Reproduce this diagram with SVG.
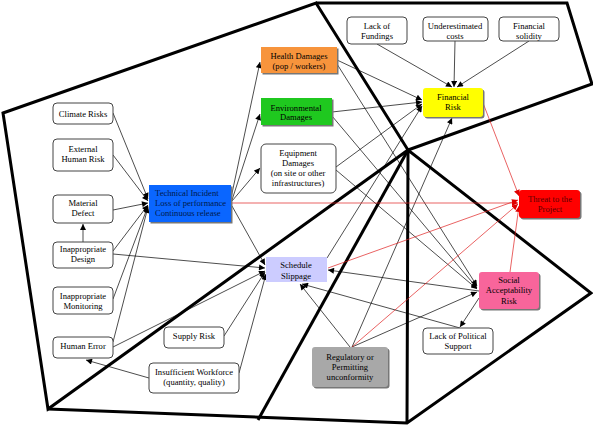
<svg xmlns="http://www.w3.org/2000/svg" width="593" height="426" viewBox="0 0 593 426">
<style>
text{font-family:"Liberation Serif","Times New Roman",serif;font-size:8.6px;fill:#000;text-anchor:middle}
.w{fill:#fff;stroke:#444;stroke-width:1}
.sh{fill:#777}
.zone{fill:none;stroke:#000;stroke-width:3;stroke-linejoin:miter}
.c{stroke:#000;stroke-width:0.7;fill:none;marker-end:url(#a)}
.r{stroke:#e02020;stroke-width:0.7;fill:none;marker-end:url(#ar)}
</style>
<defs>
<marker id="a" viewBox="0 0 10 10" refX="10" refY="5" markerWidth="7" markerHeight="6" markerUnits="userSpaceOnUse" orient="auto"><path d="M0,0 L10,5 L0,10 z" fill="#000"/></marker>
<marker id="ar" viewBox="0 0 10 10" refX="10" refY="5" markerWidth="7" markerHeight="6" markerUnits="userSpaceOnUse" orient="auto"><path d="M0,0 L10,5 L0,10 z" fill="#e00000"/></marker>
</defs>
<rect width="593" height="426" fill="#fff"/>
<g id="zones">
<path class="zone" d="M3,113 L316,3 L408,150 L48,409 Z"/>
<path class="zone" d="M316,3 L567,3 L592,84 L408,150"/>
<path class="zone" d="M48,409 L407,423 L591,293 L408,150 L407,423"/>
<path class="zone" d="M408,150 L258,420"/>
</g>
<g id="connectors">
<line class="c" x1="113" y1="113" x2="148" y2="199"/>
<line class="c" x1="113" y1="155" x2="148" y2="201"/>
<line class="c" x1="113" y1="210" x2="148" y2="203"/>
<line class="c" x1="113" y1="251" x2="148" y2="205"/>
<line class="c" x1="113" y1="299" x2="148" y2="206"/>
<line class="c" x1="113" y1="342" x2="148" y2="207"/>
<line class="c" x1="83" y1="242" x2="83" y2="224"/>
<line class="c" x1="113" y1="254" x2="265" y2="268"/>
<line class="c" x1="113" y1="347" x2="265" y2="271"/>
<line class="c" x1="224" y1="336" x2="265" y2="272"/>
<line class="c" x1="239" y1="373" x2="266" y2="274"/>
<line class="c" x1="149" y1="378" x2="86" y2="360"/>
<line class="c" x1="231" y1="198" x2="260" y2="62"/>
<line class="c" x1="232" y1="200" x2="260" y2="114"/>
<line class="c" x1="232" y1="201" x2="260" y2="168"/>
<line class="c" x1="232" y1="206" x2="265" y2="265"/>
<line class="c" x1="377" y1="44" x2="452" y2="87"/>
<line class="c" x1="455" y1="41" x2="454" y2="87"/>
<line class="c" x1="529" y1="41" x2="457" y2="87"/>
<line class="c" x1="337" y1="60" x2="422" y2="100"/>
<line class="c" x1="332" y1="112" x2="422" y2="102"/>
<line class="c" x1="336" y1="167" x2="422" y2="104"/>
<line class="c" x1="327" y1="258" x2="422" y2="106"/>
<line class="c" x1="352" y1="347" x2="452" y2="118"/>
<line class="c" x1="337" y1="64" x2="477" y2="286"/>
<line class="c" x1="332" y1="116" x2="477" y2="288"/>
<line class="c" x1="336" y1="170" x2="477" y2="289"/>
<line class="c" x1="479" y1="291" x2="328" y2="270"/>
<line class="c" x1="352" y1="347" x2="477" y2="292"/>
<line class="c" x1="350" y1="347" x2="300" y2="284"/>
<line class="c" x1="479" y1="298" x2="460" y2="327"/>
<line class="c" x1="460" y1="328" x2="302" y2="284"/>
<line class="r" x1="231" y1="203" x2="518" y2="203"/>
<line class="r" x1="483" y1="103" x2="519" y2="196"/>
<line class="r" x1="328" y1="268" x2="518" y2="200"/>
<line class="r" x1="352" y1="347" x2="518" y2="204"/>
<line class="r" x1="510" y1="272" x2="519" y2="206"/>
</g>
<g id="climate"><rect class="w" x="53" y="103" width="60" height="21" rx="4"/><text x="83" y="117">Climate Risks</text></g>
<g id="external"><rect class="w" x="53" y="139" width="60" height="32" rx="4"/><text x="83" y="152">External</text><text x="83" y="162">Human Risk</text></g>
<g id="material"><rect class="w" x="53" y="195" width="60" height="28" rx="4"/><text x="83" y="206">Material</text><text x="83" y="216">Defect</text></g>
<g id="design"><rect class="w" x="53" y="242" width="60" height="26" rx="4"/><text x="83" y="252">Inappropriate</text><text x="83" y="262">Design</text></g>
<g id="monitoring"><rect class="w" x="53" y="287" width="60" height="27" rx="4"/><text x="83" y="299">Inappropriate</text><text x="83" y="309">Monitoring</text></g>
<g id="human"><rect class="w" x="53" y="337" width="60" height="21" rx="4"/><text x="83" y="349">Human Error</text></g>
<g id="supply"><rect class="w" x="164" y="327" width="60" height="21" rx="4"/><text x="194" y="339">Supply Risk</text></g>
<g id="workforce"><rect class="w" x="149" y="363" width="90" height="30" rx="4"/><text x="194" y="375">Insufficient Workforce</text><text x="194" y="385">(quantity, quality)</text></g>
<g id="technical"><rect class="sh" x="150.5" y="186.5" width="82" height="37"/><rect x="149" y="185" width="82" height="37" fill="#0a66ff"/><text x="155" y="196" style="text-anchor:start;fill:#001a4d">Technical  Incident</text><text x="155" y="206" style="text-anchor:start;fill:#001a4d">Loss of performance</text><text x="155" y="216" style="text-anchor:start;fill:#001a4d">Continuous release</text></g>
<g id="health"><rect class="sh" x="262.5" y="48.5" width="76" height="26"/><rect x="261" y="47" width="76" height="26" fill="#f7943c"/><text x="299" y="59">Health Damages</text><text x="299" y="69">(pop / workers)</text></g>
<g id="environmental"><rect class="sh" x="262.5" y="99.5" width="71" height="27"/><rect x="261" y="98" width="71" height="27" fill="#1fc81f"/><text x="296" y="111">Environmental</text><text x="296" y="120">Damages</text></g>
<g id="equipment"><rect class="w" x="261" y="144" width="75" height="49" rx="5"/><text x="298" y="156">Equipment</text><text x="298" y="166">Damages</text><text x="298" y="176">(on site or other</text><text x="298" y="186">infrastructures)</text></g>
<g id="schedule"><rect x="266" y="257" width="61" height="25" fill="#ccccff"/><text x="296" y="268">Schedule</text><text x="296" y="279">Slippage</text></g>
<g id="fundings"><rect class="w" x="347" y="17" width="60" height="27" rx="4"/><text x="377" y="29">Lack of</text><text x="377" y="39">Fundings</text></g>
<g id="costs"><rect class="w" x="423" y="17" width="65" height="24" rx="4"/><text x="455" y="29">Underestimated</text><text x="455" y="39">costs</text></g>
<g id="solidity"><rect class="w" x="499" y="17" width="60" height="24" rx="4"/><text x="529" y="29">Financial</text><text x="529" y="39">solidity</text></g>
<g id="financial"><rect class="sh" x="424.5" y="89.5" width="60" height="29" rx="3"/><rect x="423" y="88" width="60" height="29" rx="3" fill="#ffff00"/><text x="453" y="100">Financial</text><text x="453" y="110">Risk</text></g>
<g id="threat"><rect class="sh" x="520.5" y="191.5" width="61" height="28" rx="3"/><rect x="519" y="190" width="61" height="28" rx="3" fill="#ff0000"/><text x="550" y="202" style="fill:#5a0000">Threat to the</text><text x="550" y="212" style="fill:#5a0000">Project</text></g>
<g id="social"><rect class="sh" x="480.5" y="273.5" width="60" height="37" rx="3"/><rect x="479" y="272" width="60" height="37" rx="3" fill="#f8659b"/><text x="509" y="283">Social</text><text x="509" y="293">Acceptability</text><text x="509" y="304">Risk</text></g>
<g id="political"><rect class="w" x="423" y="328" width="70" height="26" rx="4"/><text x="458" y="339">Lack of Political</text><text x="458" y="349">Support</text></g>
<g id="regulatory"><rect class="sh" x="313.5" y="348.5" width="76" height="40" rx="3"/><rect x="312" y="347" width="76" height="40" rx="3" fill="#a8a8a8"/><text x="350" y="360">Regulatory or</text><text x="350" y="370">Permitting</text><text x="350" y="380">unconformity</text></g>
</svg>
